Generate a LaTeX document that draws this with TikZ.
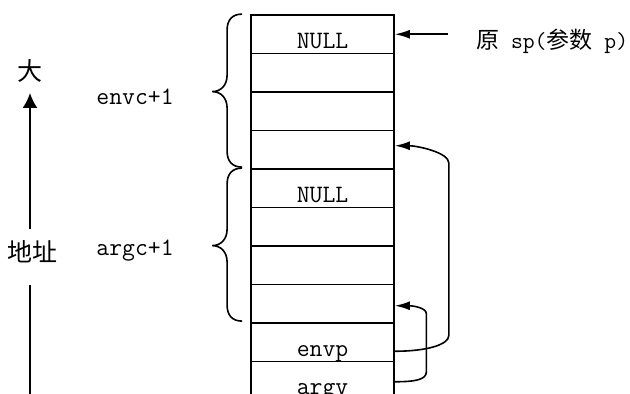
\documentclass[tikz,border=0pt]{standalone}
\usepackage{fontspec}
\newfontfamily\cjk{Noto Sans CJK SC}
\usetikzlibrary{arrows.meta}

\begin{document}
\begin{tikzpicture}[x=1pt, y=-1pt,
    cell/.style={draw, line width=1.8pt, minimum width=143pt, minimum height=38.5pt, inner sep=0pt},
    celltext/.style={anchor=base, font=\fontsize{25}{30}\selectfont\ttfamily},
    lbl/.style={anchor=base, font=\fontsize{25}{30}\selectfont\ttfamily},
    hanzi/.style={font=\fontsize{25}{30}\selectfont\cjk},
    ptr/.style={-{Latex[length=15pt,width=9pt]}, line width=1.6pt},
    axis/.style={line width=1.8pt},
    bracket/.style={line width=1.6pt}]
    \useasboundingbox (0,0) rectangle (630,394);
    \clip (0,0) rectangle (630,394);

    % Stack cells
    \foreach \i in {0,...,9}
        \node[cell] (c\i) at (322.5,{34.25+38.5*\i}) {};
    \foreach \i/\txt in {0/NULL,4/NULL,8/envp,9/argv}
        \node[celltext] (t\i) at ([yshift=6pt]c\i.south) {\txt};

    % Braces
    \foreach \j in {0,4}
        \draw[bracket] ([xshift=-8pt]c\j.north west)
            .. controls +(-10,0) and +(0,-10) .. ++(-15,16) -- ++(0,45)
            .. controls +(0,10) and +(9,0) .. ++(-15,16.5)
            .. controls +(9,0) and +(0,-10) .. ++(15,16.5) -- ++(0,43)
            .. controls +(0,10) and +(-10,0) .. ++(15,16);
    \node[lbl] (envc) at (135,104) {envc+1};
    \node[lbl] (argc) at (135,255) {argc+1};

    % Address axis
    \node[hanzi] (big) at (30,71) {大};
    \node[hanzi] (addr) at (33,251.5) {地址};
    \coordinate (axbot) at (30,394);
    \draw[axis, -{Latex[length=15pt,width=15pt]}] ([yshift=8pt]addr.north -| big) -- ([yshift=-7pt]big.south);
    \draw[axis] ([yshift=-19pt]addr.south -| big) -- (axbot);

    % Original sp
    \node[font=\fontsize{23}{28}\selectfont\ttfamily, anchor=base west, inner sep=0pt] (origsp) at (476,48) {{\cjk 原} sp({\cjk 参数} p)};
    \draw[ptr] ([xshift=-28pt]origsp.west |- c0.east) -- (c0.east);

    % Pointers
    \draw[ptr] ([yshift=-9pt]c8.east) .. controls +(30,0) and +(0,10) .. ++(54,-16)
        -- ++(0,-172) .. controls +(0,-11) and +(22,0) .. ([yshift=4pt]c3.east);
    \draw[ptr] ([yshift=-1pt]c9.east) .. controls +(20,0) and +(0,8) .. ++(31.5,-10)
        -- ++(0,-58) .. controls +(0,-6) and +(18,0) .. ([yshift=-2pt]c7.east);
\end{tikzpicture}
\end{document}
